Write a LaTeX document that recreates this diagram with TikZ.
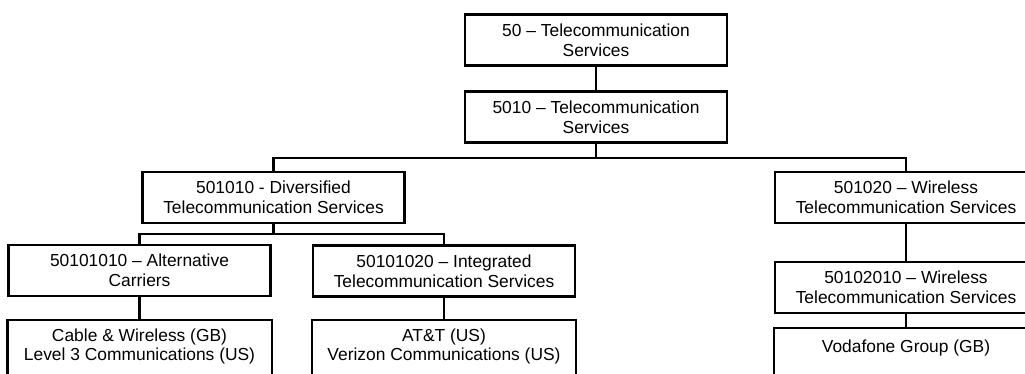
\documentclass[tikz,border=0pt]{standalone}
\usepackage{fontspec}
\setmainfont{Liberation Sans}
\begin{document}
\begin{tikzpicture}[x=1pt,y=-1pt,
  box/.style={draw=black,line width=2.3pt,fill=white,minimum width=262pt,minimum height=51pt,
    inner sep=0pt,align=center,font=\fontsize{17.4}{19.6}\selectfont},
  leafbox/.style={box,draw=none,fill=none},
  leafframe/.style={draw=black,line width=2.3pt},
  link/.style={draw=black,line width=2.3pt}]
\useasboundingbox (0,0) rectangle (1025,373);
\clip (0,0) rectangle (1025,373);
\node[box] (n50) at (596,40) {50 – Telecommunication\\Services};
\node[box] (n5010) at (596,117) {5010 – Telecommunication\\Services};
\node[box] (n501010) at (273.5,197.5) {501010 - Diversified\\Telecommunication Services};
\node[box] (n501020) at (906,197.5) {501020 – Wireless\\Telecommunication Services};
\node[box] (n50101010) at (139.5,270.5) {50101010 – Alternative\\Carriers};
\node[box] (n50101020) at (444,271) {50101020 – Integrated\\Telecommunication Services};
\node[box] (n50102010) at (906,287.5) {50102010 – Wireless\\Telecommunication Services};
\node[leafbox] (cable) at (139.5,346.5) {Cable \& Wireless (GB)\\Level 3 Communications (US)};
\node[leafbox] (verizon) at (444,346.5) {AT\&T (US)\\Verizon Communications (US)};
\node[leafbox,minimum height=38pt] (vodafone) at (906,348) {Vodafone Group (GB)};
\draw[leafframe] (cable.north west) rectangle ([yshift=-20pt]cable.south east);
\draw[leafframe] (verizon.north west) rectangle ([yshift=-20pt]verizon.south east);
\draw[leafframe] (vodafone.north west) rectangle ([yshift=-30pt]vodafone.south east);
\coordinate (b1) at (0,158);
\coordinate (b2) at (0,234);
\draw[link] (n50.south) -- (n5010.north);
\draw[link] (n5010.south) -- (n5010.south |- b1) -| (n501010.north);
\draw[link] (n5010.south |- b1) -| (n501020.north);
\draw[link] (n501010.south) -- (n501010.south |- b2) -| (n50101010.north);
\draw[link] (n501010.south |- b2) -| (n50101020.north);
\draw[link] (n501020.south) -- (n50102010.north);
\draw[link] (n50101010.south) -- (cable.north);
\draw[link] (n50101020.south) -- (verizon.north);
\draw[link] (n50102010.south) -- (vodafone.north);
\end{tikzpicture}
\end{document}
